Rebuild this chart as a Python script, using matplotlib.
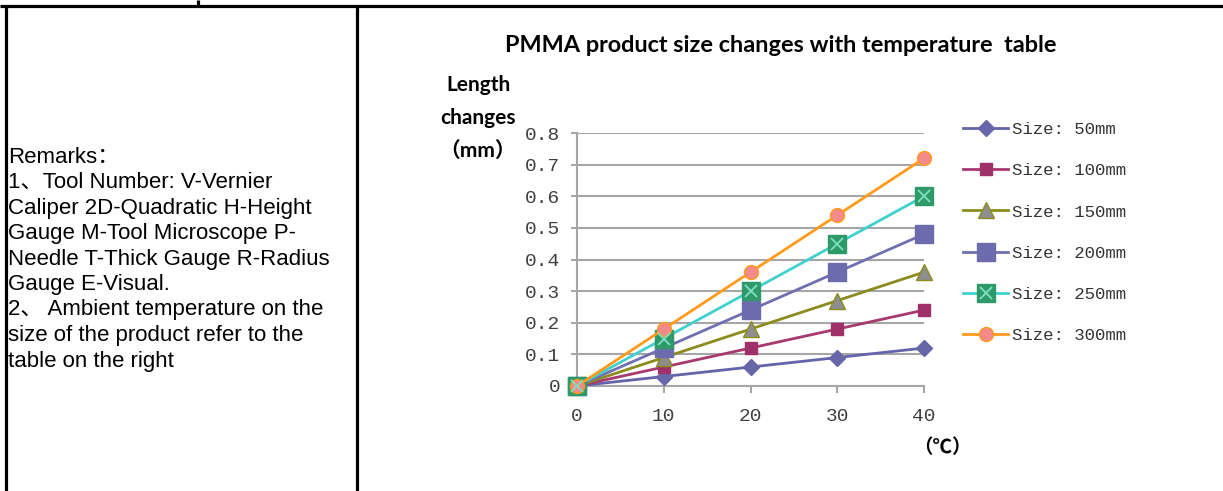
import matplotlib
matplotlib.use("Agg")
import matplotlib.pyplot as plt
from matplotlib.lines import Line2D
from matplotlib.legend_handler import HandlerTuple

# data
temps = [0, 10, 20, 30, 40]
size_50 = [0, 0.03, 0.06, 0.09, 0.12]
size_100 = [0, 0.06, 0.12, 0.18, 0.24]
size_150 = [0, 0.09, 0.18, 0.27, 0.36]
size_200 = [0, 0.12, 0.24, 0.36, 0.48]
size_250 = [0, 0.15, 0.30, 0.45, 0.60]
size_300 = [0, 0.18, 0.36, 0.54, 0.72]
labels = ["Size: 50mm", "Size: 100mm", "Size: 150mm",
          "Size: 200mm", "Size: 250mm", "Size: 300mm"]
yticks = [0, 0.1, 0.2, 0.3, 0.4, 0.5, 0.6, 0.7, 0.8]
ytick_labels = ["0", "0.1", "0.2", "0.3", "0.4", "0.5", "0.6", "0.7", "0.8"]

remarks = [
    "Remarks：",
    "1、Tool Number: V-Vernier",
    "Caliper 2D-Quadratic H-Height",
    "Gauge M-Tool Microscope P-",
    "Needle T-Thick Gauge R-Radius",
    "Gauge E-Visual.",
    "2、 Ambient temperature on the",
    "size of the product refer to the",
    "table on the right",
]

W, H = 1223, 491
fig = plt.figure(figsize=(W / 100, H / 100), dpi=100)


def fx(px):
    return px / W


def fy(py):
    return 1 - py / H


# table borders
border = dict(color="black", lw=2.3, solid_capstyle="butt")
fig.add_artist(Line2D([0, 1], [fy(5.5), fy(5.5)], **border))
fig.add_artist(Line2D([fx(5.5), fx(5.5)], [fy(5.5), 0], **border))
fig.add_artist(Line2D([fx(356.5), fx(356.5)], [fy(5.5), 0], **border))
fig.add_artist(Line2D([fx(197.5), fx(197.5)], [1, fy(5.5)], **border))

# remarks in the left cell
for i, line in enumerate(remarks):
    fig.text(fx(8), fy(157 + i * 25.5), line, ha="left", va="center",
             fontsize=16, family=["Liberation Sans", "Noto Sans CJK SC"])

# chart
ax = fig.add_axes([fx(577), fy(386), (924 - 577) / W, (386 - 133) / H])
grid_c = "#a6a6a6"

series = [
    (size_50, "#6464aa", dict(marker="D", ms=8, mfc="#6666a8", mec="#6666a8")),
    (size_100, "#a8386e", dict(marker="s", ms=9, mfc="#a0306a", mec="#a0306a")),
    (size_150, "#8c8c1e", dict(marker="^", ms=11, mfc="#8e8e8e", mec="#8c8c1e")),
    (size_200, "#7070b0", dict(marker="s", ms=13, mfc="#6b6bae", mec="#6b6bae")),
    (size_250, "#40d0d0", dict(marker="s", ms=13, mfc="#2e9a6a", mec="#2e9a6a")),
    (size_300, "#ff9a1a", dict(marker="o", ms=10, mfc="#f58a8a", mec="#ff9a1a")),
]

handles = []
for vals, col, mk in series:
    h, = ax.plot(temps, vals, color=col, lw=2, clip_on=False, zorder=3, **mk)
    handles.append(h)

# the asterisk inside the 250mm squares
star, = ax.plot(temps, size_250, ls="none", marker="x", ms=8, mew=1.3,
                color="#7fe0c0", clip_on=False, zorder=4)
handles[4] = (handles[4], star)

ax.set_xlim(0, 40)
ax.set_ylim(0, 0.8)
ax.set_xticks(temps)
ax.set_yticks(yticks)
ax.set_yticklabels(ytick_labels)
ax.grid(axis="y", color=grid_c, lw=1.5)
ax.set_axisbelow(True)
for s in ["top", "right"]:
    ax.spines[s].set_visible(False)
for s in ["left", "bottom"]:
    ax.spines[s].set_color(grid_c)
    ax.spines[s].set_linewidth(1.5)
ax.tick_params(axis="y", direction="out", length=4, width=1.5, color=grid_c,
               pad=8, labelsize=14, labelcolor="#404040")
ax.tick_params(axis="x", direction="out", length=5, width=1.5, color=grid_c,
               pad=11, labelsize=14, labelcolor="#404040")
for t in ax.get_xticklabels() + ax.get_yticklabels():
    t.set_family("Liberation Mono")

fig.text(fx(781), fy(45), "PMMA product size changes with temperature  table",
         ha="center", va="center", fontsize=16.9, fontweight="bold", family="Lato")
for i, word in enumerate(["Length", "changes", "（mm）"]):
    fig.text(fx(478), fy(85 + i * 33), word, ha="center", va="center",
             fontsize=15, fontweight="bold",
             family=["Lato", "Noto Sans CJK SC"])
fig.text(fx(942), fy(448), "（℃）", ha="center", va="center", fontsize=14,
         fontweight="bold", family=["Noto Sans CJK SC", "DejaVu Sans"])

ax.legend(handles, labels, loc="upper left", bbox_to_anchor=(fx(963), fy(122)),
          bbox_transform=fig.transFigure, frameon=False,
          prop={"family": "Liberation Mono", "size": 12.5},
          handlelength=2.6, handletextpad=0.2, labelspacing=1.5,
          borderpad=0, borderaxespad=0, labelcolor="#333333",
          handler_map={tuple: HandlerTuple(ndivide=1)})

fig.savefig("out.png", dpi=100)
